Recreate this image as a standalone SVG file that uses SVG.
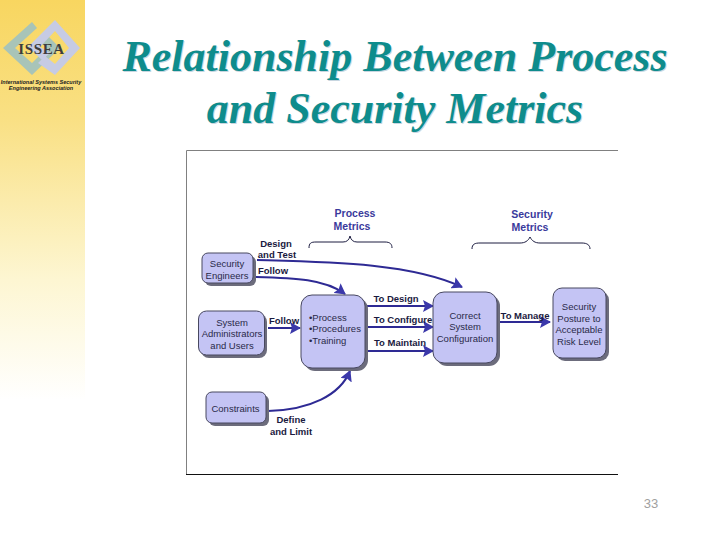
<svg xmlns="http://www.w3.org/2000/svg" width="720" height="540" viewBox="0 0 720 540">
<defs>
<linearGradient id="side" x1="0" y1="0" x2="0" y2="1"><stop offset="0" stop-color="#f8d660"/><stop offset="0.3" stop-color="#f9e084"/><stop offset="0.7" stop-color="#fdf6d2"/><stop offset="1" stop-color="#ffffff"/></linearGradient>
<marker id="ah" markerUnits="userSpaceOnUse" markerWidth="11" markerHeight="12" refX="10" refY="6" orient="auto"><path d="M0 0L11 6L0 12L2 6Z" fill="#3b38aa"/></marker>
</defs>
<style>
.title{font-family:"Liberation Serif",serif;font-style:italic;font-weight:bold;font-size:44px;text-anchor:middle}
.tf{fill:#0e8c8c}
.ts{fill:#c8d6e0}
.shadow{fill:#6c6c7c}
.box{fill:#c4c4f4;stroke:#484860;stroke-width:1}
.t{font-family:"Liberation Sans",sans-serif;font-size:9.500px;fill:#2a2a48;text-anchor:middle}
.b{font-family:"Liberation Sans",sans-serif;font-size:9.500px;font-weight:bold;fill:#1a1a40;text-anchor:middle}
.m{font-family:"Liberation Sans",sans-serif;font-size:10.500px;font-weight:bold;fill:#3a3a9c;text-anchor:middle}
.c{fill:none;stroke:#2e2a94;stroke-width:2;marker-end:url(#ah)}
.br{fill:none;stroke:#1c1c40;stroke-width:1}
.lg{font-family:"Liberation Sans",sans-serif;font-weight:bold;font-style:italic;font-size:5.500px;fill:#222;text-anchor:middle}
</style>
<rect x="0" y="0" width="85" height="400" fill="url(#side)"/>
<g id="logo">
<path d="M32 22L3 48L32 75L60 48L45 33L37 40L47 48L32 63L15 48L37 28Z" fill="#a8c4b8"/>
<path d="M55 20L28 47L42 60L50 53L40 47L55 31L69 48L55 64L45 56L38 63L55 75L80 48Z" fill="#c6cbe4"/>
<text x="41.500" y="54" font-family="Liberation Serif,serif" font-weight="bold" font-size="15" letter-spacing="0.600" fill="#3d3d3d" text-anchor="middle">ISSEA</text>
<text class="lg" x="41" y="84">International Systems Security</text>
<text class="lg" x="41" y="90">Engineering Association</text>
</g>
<g id="title">
<text class="title ts" x="396" y="72">Relationship Between Process</text>
<text class="title ts" x="396" y="124">and Security Metrics</text>
<text class="title tf" x="395" y="71">Relationship Between Process</text>
<text class="title tf" x="395" y="123">and Security Metrics</text>
</g>
<g id="frame" fill="none" stroke-width="1"><path d="M618 150.500H186.500V474" stroke="#808080"/><path d="M186 474.500H618" stroke="#111"/></g>
<g id="connectors">
<path class="c" d="M257 260C330 262 410 263 462 287"/>
<path class="c" d="M256 277C295 278 325 279 345 294"/>
<path class="c" d="M268 328H300"/>
<path class="c" d="M268 411C310 410 340 395 350 371"/>
<path class="c" d="M366 306H433"/>
<path class="c" d="M366 327H433"/>
<path class="c" d="M366 351H433"/>
<path class="c" d="M500 322H550"/>
<path class="br" d="M309 248C309 243 311 242 316 242H343C347 242 349 240 350 236C351 240 353 242 357 242H385C390 242 392 244 392 248"/>
<path class="br" d="M472 249C472 244 475 243 480 243H520C525 243 528 241 530 237C532 241 535 243 540 243H582C587 243 590 245 590 249"/>
</g>
<g id="security-engineers"><rect class="shadow" x="205" y="256" width="51" height="30" rx="6"/><rect class="box" x="202" y="253" width="51" height="30" rx="6"/><text class="t" x="227" y="267">Security</text><text class="t" x="227" y="279">Engineers</text></g>
<g id="system-admins"><rect class="shadow" x="201" y="314" width="66" height="44" rx="8"/><rect class="box" x="198.500" y="311" width="66" height="44" rx="8"/><text class="t" x="232" y="326">System</text><text class="t" x="232" y="337">Administrators</text><text class="t" x="232" y="349">and Users</text></g>
<g id="constraints"><rect class="shadow" x="209" y="395" width="60" height="31" rx="6"/><rect class="box" x="206" y="392" width="60" height="31" rx="6"/><text class="t" x="235.500" y="412">Constraints</text></g>
<g id="process"><rect class="shadow" x="304" y="298" width="64" height="73" rx="11"/><rect class="box" x="301" y="295" width="64" height="73" rx="11"/><text class="t" x="309" y="321" style="text-anchor:start">•Process</text><text class="t" x="309" y="332" style="text-anchor:start">•Procedures</text><text class="t" x="309" y="344" style="text-anchor:start">•Training</text></g>
<g id="configuration"><rect class="shadow" x="436" y="295" width="64" height="71" rx="11"/><rect class="box" x="433" y="292" width="64" height="71" rx="11"/><text class="t" x="465" y="319">Correct</text><text class="t" x="465" y="330">System</text><text class="t" x="465" y="342">Configuration</text></g>
<g id="posture"><rect class="shadow" x="556" y="291" width="53" height="70" rx="9"/><rect class="box" x="553" y="288" width="53" height="70" rx="9"/><text class="t" x="579" y="310">Security</text><text class="t" x="579" y="322">Posture to</text><text class="t" x="579" y="333">Acceptable</text><text class="t" x="579" y="345">Risk Level</text></g>
<g id="labels">
<text class="m" x="355" y="217">Process</text><text class="m" x="352" y="230">Metrics</text>
<text class="m" x="532" y="218">Security</text><text class="m" x="530" y="231">Metrics</text>
<text class="b" x="276" y="247">Design</text><text class="b" x="277" y="258">and Test</text>
<text class="b" x="273" y="274">Follow</text><text class="b" x="284" y="324">Follow</text>
<text class="b" x="291" y="423">Define</text><text class="b" x="291" y="435">and Limit</text>
<text class="b" x="396" y="302">To Design</text><text class="b" x="403" y="323">To Configure</text><text class="b" x="400" y="346">To Maintain</text>
<text class="b" x="525" y="319">To Manage</text>
</g>
<text x="651" y="508" font-family="Liberation Sans,sans-serif" font-size="13" fill="#a0a0a0" text-anchor="middle">33</text>
</svg>
